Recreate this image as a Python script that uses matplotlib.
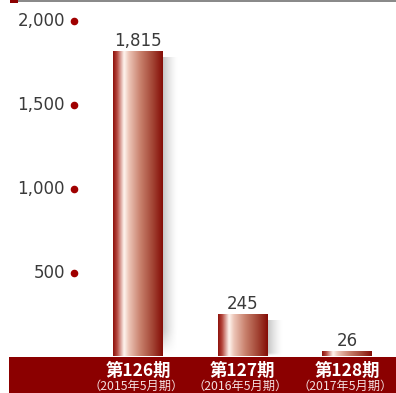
import numpy as np
import matplotlib
matplotlib.use("Agg")
import matplotlib.pyplot as plt
from matplotlib.colors import LinearSegmentedColormap
from matplotlib.patches import Rectangle

# ---- data ----
categories = ["第126期", "第127期", "第128期"]
sublabels = ["（2015年5月期）", "（2016年5月期）", "（2017年5月期）"]
values = [1815, 245, 26]
yticks = [500, 1000, 1500, 2000]
ytick_labels = ["500", "1,000", "1,500", "2,000"]

plt.rcParams['font.family'] = ['DejaVu Sans']
CJK = ['Noto Sans CJK JP', 'DejaVu Sans']

W, H = 396, 393
fig = plt.figure(figsize=(W / 100, H / 100), dpi=100)
ax = fig.add_axes([0, 0, 1, 1])
ax.set_axis_off()

px_per_cat = 104.5
cx0 = 138.0
base_py = 356.5
px_per_unit = 0.1676
xlim = (-cx0 / px_per_cat, (W - cx0) / px_per_cat)
ylim = (-(H - base_py) / px_per_unit, base_py / px_per_unit)

def dx(px):
    return px / px_per_cat

def dy(px):
    return px / px_per_unit

x = np.arange(len(categories))
bar_w = 50 / px_per_cat

bars = ax.bar(x, values, width=bar_w, color='none', zorder=2)

stops = [
    (0.0, (140, 15, 10)),
    (0.08, (180, 70, 60)),
    (0.22, (255, 246, 240)),
    (0.32, (236, 196, 182)),
    (0.55, (200, 128, 108)),
    (0.8, (162, 68, 52)),
    (1.0, (132, 12, 6)),
]
cmap = LinearSegmentedColormap.from_list(
    "barg", [(p, tuple(c / 255 for c in col)) for p, col in stops])
grad = np.linspace(0, 1, 256).reshape(1, -1)

# soft shadow to the right of each bar
ny, nx = 64, 64
xs = np.linspace(0, 1, nx)
ys = np.linspace(0, 1, ny)
sh = np.zeros((ny, nx, 4))
sh[..., 0:3] = 0.55
ax_fade = (1 - xs) ** 1.5
y_fade = np.clip(ys / 0.08, 0, 1)[::-1]
sh[..., 3] = 0.5 * np.outer(y_fade, ax_fade)

for b in bars:
    x0 = b.get_x()
    x1 = x0 + b.get_width()
    h = b.get_height()
    top_sh = max(h - dy(6), 0)
    if top_sh > 0:
        ax.imshow(sh, extent=[x1, x1 + dx(15), 0, top_sh], aspect='auto',
                  interpolation='bicubic', zorder=1)
    ax.imshow(grad, cmap=cmap, extent=[x0, x1, 0, h], aspect='auto',
              interpolation='bicubic', zorder=2)
    ax.annotate(f"{int(h):,}", (b.get_x() + b.get_width() / 2, h),
                xytext=(0, 1.5), textcoords='offset points', ha='center',
                va='bottom', fontsize=12, color='#3a3a3a', zorder=3)

# bottom band
band_x0 = (9 - cx0) / px_per_cat
ax.add_patch(Rectangle((band_x0, ylim[0]), xlim[1] - band_x0, -ylim[0],
                       facecolor='#8b0000', edgecolor='none', zorder=3))

for i, (c, s) in enumerate(zip(categories, sublabels)):
    ax.text(x[i], -dy(371 - base_py), c, ha='center', va='center',
            fontsize=12.5, fontweight='bold', color='white', family=CJK, zorder=4)
    ax.text(x[i] - dx(2), -dy(386 - base_py), s, ha='center', va='center',
            fontsize=8.8, color='#f3dede', family=CJK, zorder=4)

# y ticks: labels + red dots
dot_x = (74 - cx0) / px_per_cat
lab_x = (65 - cx0) / px_per_cat
ax.scatter([dot_x] * len(yticks), yticks, s=20, color='#a00000', zorder=3)
for v, lab in zip(yticks, ytick_labels):
    ax.text(lab_x, v, lab, ha='right', va='center', fontsize=12,
            color='#3a3a3a', zorder=3)

# top line decoration
fig.patches.append(Rectangle((18 / W, 1 - 2 / H), 1, 2 / H, transform=fig.transFigure,
                             facecolor='#8a8a8a', edgecolor='none'))
fig.patches.append(Rectangle((10 / W, 1 - 3 / H), 8 / W, 3 / H, transform=fig.transFigure,
                             facecolor='#8b0000', edgecolor='none'))

ax.set_xlim(*xlim)
ax.set_ylim(*ylim)

fig.savefig("out.png", dpi=100)
